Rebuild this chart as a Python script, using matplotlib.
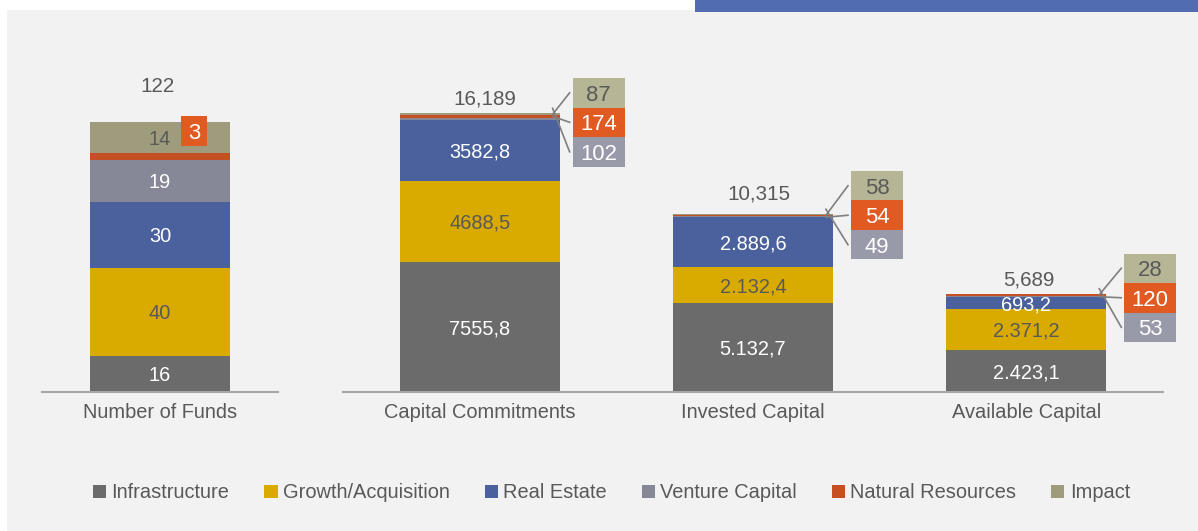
import matplotlib.pyplot as plt
from matplotlib.patches import Rectangle, Patch
from matplotlib.lines import Line2D

plt.rcParams['font.family'] = ['Liberation Sans', 'DejaVu Sans']

sectors = ["Infrastructure", "Growth/Acquisition", "Real Estate",
           "Venture Capital", "Natural Resources", "Impact"]
bar_colors = ["#6b6b6b", "#d9aa00", "#4a619d", "#868797", "#c65023", "#9f9c7e"]
box_colors = {"Venture Capital": "#9899a9", "Natural Resources": "#e05a22", "Impact": "#b6b596"}
dark = "#595959"
label_colors = ["white", dark, "white", "white", "white", dark]

# Number of funds
fund_counts = [16, 40, 30, 19, 3, 14]
fund_total = "122"

# Capital (three bars)
capital_cats = ["Capital Commitments", "Invested Capital", "Available Capital"]
infrastructure = [7555.8, 5132.7, 2423.1]
growth = [4688.5, 2132.4, 2371.2]
real_estate = [3582.8, 2889.6, 693.2]
venture = [102, 49, 53]
natural = [174, 54, 120]
impact = [87, 58, 28]
infra_labels = ["7555,8", "5.132,7", "2.423,1"]
growth_labels = ["4688,5", "2.132,4", "2.371,2"]
re_labels = ["3582,8", "2.889,6", "693,2"]
capital_totals = ["16,189", "10,315", "5,689"]

W, H = 1198, 531
FS = 14.4
fig = plt.figure(figsize=(W / 100, H / 100), dpi=100, facecolor="white")
fig.add_artist(Rectangle((7 / W, 0), 1 - 7 / W, 1 - 10 / H, transform=fig.transFigure,
                         facecolor="#f2f2f2", edgecolor="none", zorder=-10))
fig.add_artist(Rectangle((695 / W, 1 - 12 / H), 1 - 695 / W, 12 / H, transform=fig.transFigure,
                         facecolor="#516cb0", edgecolor="none", zorder=-9))

base = 1 - 391.5 / H
ax_f = fig.add_axes([42 / W, base, 236 / W, 361 / H])
ax_c = fig.add_axes([343 / W, base, 820 / W, 361 / H])

for ax in (ax_f, ax_c):
    ax.patch.set_visible(False)
    for s in ("top", "left", "right"):
        ax.spines[s].set_visible(False)
    ax.spines["bottom"].set_color("#a6a6a6")
    ax.spines["bottom"].set_linewidth(1.5)
    ax.set_yticks([])
    ax.tick_params(axis="x", length=0, pad=8.5, labelsize=FS, labelcolor=dark)

ax_f.set_xlim(-0.5, 0.5)
ax_f.set_ylim(0, 163.4)
ax_c.set_xlim(-0.5, 2.5)
ax_c.set_ylim(0, 21009)

to_fig = fig.transFigure.inverted()


def fig_pt(x, y):
    return to_fig.transform((x, y))


def box(cx, cy, w, h, color, text, tcolor):
    x0, y0 = fig_pt(cx - w / 2, cy - h / 2)
    x1, y1 = fig_pt(cx + w / 2, cy + h / 2)
    fig.add_artist(Rectangle((x0, y0), x1 - x0, y1 - y0, transform=fig.transFigure,
                             facecolor=color, edgecolor="none"))
    fx, fy = fig_pt(cx, cy)
    fig.text(fx, fy, text, ha="center", va="center_baseline", fontsize=FS + 1.5, color=tcolor)


# ---- Number of funds bar
fw = 0.589
bottom = 0
for val, col, tc, name in zip(fund_counts, bar_colors, label_colors, sectors):
    ax_f.bar(0, val, fw, bottom=bottom, color=col)
    if name != "Natural Resources":
        ax_f.text(0, bottom + val / 2, str(val), ha="center", va="center_baseline",
                  fontsize=FS, color=tc)
    bottom += val
ax_f.set_xticks([0], ["Number of Funds"])
ax_f.annotate(fund_total, (0, bottom), xytext=(-2, 30), textcoords="offset pixels",
              ha="center", va="baseline", fontsize=FS + 0.5, color=dark)
px, py = ax_f.transData.transform((0, bottom))
box(px + 34, py - 9, 26, 30, box_colors["Natural Resources"], str(fund_counts[4]), "white")

# ---- Capital bars
cw = 0.585
x = range(len(capital_cats))
series = [infrastructure, growth, real_estate, venture, natural, impact]
seg_labels = [infra_labels, growth_labels, re_labels, None, None, None]
bottoms = [0.0] * 3
for vals, col, tc, labs in zip(series, bar_colors, label_colors, seg_labels):
    ax_c.bar(x, vals, cw, bottom=bottoms, color=col)
    if labs:
        for i in x:
            ax_c.text(i, bottoms[i] + vals[i] / 2, labs[i], ha="center", va="center_baseline",
                      fontsize=FS, color=tc)
    bottoms = [b + v for b, v in zip(bottoms, vals)]
ax_c.set_xticks(list(x), capital_cats)

total_dy = [9, 15, 8]
total_dx = [5, 6, 2]
box_gap = [13, 18, 18]
box_shift = [9, 1, 4]
bw, bh = 52, 29.5
for i in x:
    ax_c.annotate(capital_totals[i], (i, bottoms[i]), xytext=(total_dx[i], total_dy[i]),
                  textcoords="offset pixels", ha="center", va="baseline",
                  fontsize=FS + 0.5, color=dark)
    rx, ry = ax_c.transData.transform((i + cw / 2, bottoms[i]))
    cx = rx + box_gap[i] + bw / 2
    mid = ry - box_shift[i]
    items = [(impact[i], "Impact", dark, mid + bh),
             (natural[i], "Natural Resources", "white", mid),
             (venture[i], "Venture Capital", "white", mid - bh)]
    for val, name, tc, cy in items:
        box(cx, cy, bw, bh, box_colors[name], str(val), tc)
        sx, sy = fig_pt(rx - 7, ry - 3 * (cy > mid) + 3 * (cy < mid) - 5 * (cy == mid) + 2)
        ex, ey = fig_pt(rx + box_gap[i] - 3, cy)
        fig.add_artist(Line2D([sx, ex], [sy, ey], transform=fig.transFigure,
                              color="#7f7f7f", lw=1.2))

handles = [Patch(facecolor=c, edgecolor="none") for c in bar_colors]
fig.legend(handles, sectors, loc="center", bbox_to_anchor=(611.5 / W, 1 - 493 / H),
           ncol=6, frameon=False, fontsize=FS, labelcolor=dark,
           handlelength=0.66, handleheight=0.66, handletextpad=0.26, columnspacing=1.75)

plt.savefig("out.png", dpi=100, facecolor="white")
plt.close(fig)
